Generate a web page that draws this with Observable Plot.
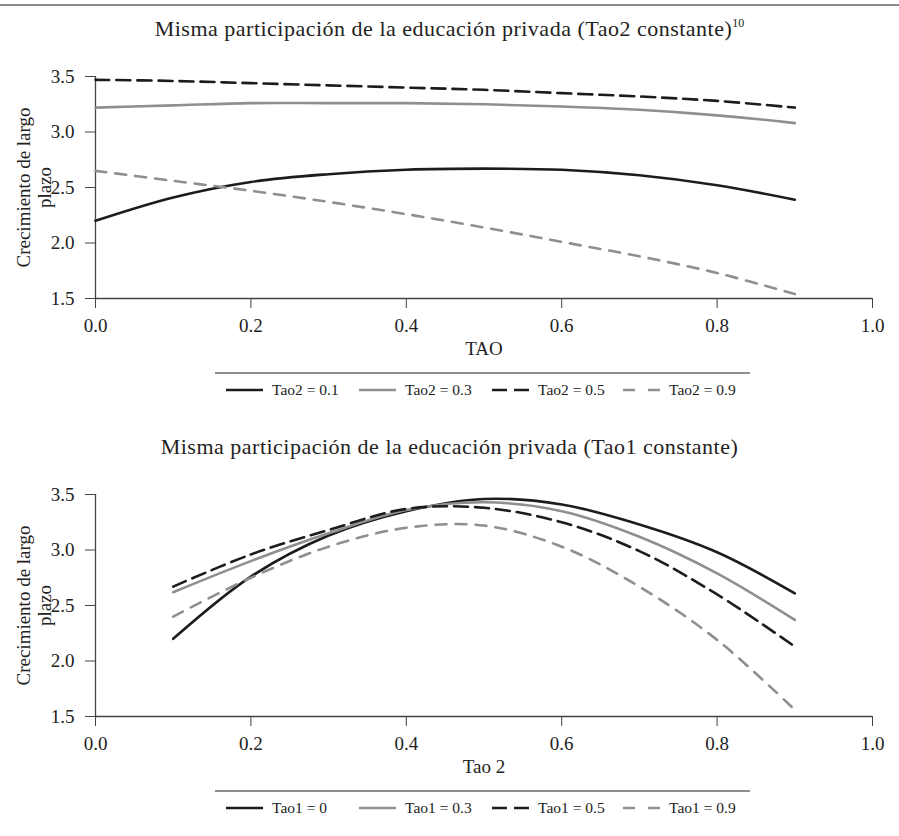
<!DOCTYPE html>
<html><head><meta charset="utf-8">
<script src="https://cdn.jsdelivr.net/npm/d3@7"></script>
<script src="https://cdn.jsdelivr.net/npm/@observablehq/plot@0.6"></script>
<style>
body{margin:0;background:#fff;font-family:"Liberation Serif",serif;color:#222}
#root{position:relative;width:899px;height:836px;overflow:hidden}
.rule{position:absolute;left:0;top:4px;width:899px;height:2px;background:#8a8a8a}
.title{position:absolute;left:0;width:899px;text-align:center;font-size:22px;letter-spacing:0.5px;line-height:24px;color:#222}
.title .sup{font-size:12px;letter-spacing:0;position:relative;top:-9px}
.sep{position:absolute;left:215px;width:535px;height:2px;background:#8e8e8e}
.leg{position:absolute;display:flex;align-items:center;font-size:15.5px;line-height:18px;white-space:nowrap;color:#222}
.leg svg{margin-right:9px}
.plot{position:absolute;left:0}
</style>
</head><body>
<div id="root"></div>
<script>
// ---------- data ----------
const titles = ["Misma participación de la educación privada (Tao2 constante)", "Misma participación de la educación privada (Tao1 constante)"];
const titleNote = "10";
const yLabel = "Crecimiento de largo\nplazo";
const xLabels = ["TAO", "Tao 2"];
const yTicks = [1.5, 2.0, 2.5, 3.0, 3.5];
const xTicks = [0, 0.2, 0.4, 0.6, 0.8, 1.0];

// Panel 1: x = TAO
const tao = [0, 0.1, 0.2, 0.3, 0.4, 0.5, 0.6, 0.7, 0.8, 0.9];
const tao2_01 = [2.20, 2.41, 2.55, 2.62, 2.66, 2.67, 2.66, 2.61, 2.52, 2.39];
const tao2_03 = [3.22, 3.24, 3.26, 3.26, 3.26, 3.25, 3.23, 3.20, 3.15, 3.08];
const tao2_05 = [3.47, 3.46, 3.44, 3.42, 3.40, 3.38, 3.35, 3.32, 3.28, 3.22];
const tao2_09 = [2.65, 2.56, 2.47, 2.37, 2.26, 2.14, 2.01, 1.88, 1.73, 1.54];
const legend1 = ["Tao2 = 0.1", "Tao2 = 0.3", "Tao2 = 0.5", "Tao2 = 0.9"];

// Panel 2: x = Tao 2
const tao2 = [0.1, 0.2, 0.3, 0.4, 0.5, 0.6, 0.7, 0.8, 0.9];
const tao1_0  = [2.20, 2.76, 3.13, 3.35, 3.46, 3.41, 3.23, 2.98, 2.61];
const tao1_03 = [2.62, 2.90, 3.15, 3.36, 3.43, 3.35, 3.12, 2.79, 2.37];
const tao1_05 = [2.67, 2.96, 3.18, 3.37, 3.38, 3.25, 2.99, 2.60, 2.13];
const tao1_09 = [2.40, 2.75, 3.03, 3.20, 3.22, 3.03, 2.67, 2.19, 1.56];
const legend2 = ["Tao1 = 0", "Tao1 = 0.3", "Tao1 = 0.5", "Tao1 = 0.9"];

// ---------- styles ----------
const BLACK = "#1c1c1c", GRAY = "#8f8f8f", AXIS = "#444";
const seriesStyles = [
  {stroke: BLACK, dash: null},
  {stroke: GRAY, dash: null},
  {stroke: BLACK, dash: "14,7"},
  {stroke: GRAY, dash: "11,9"}
];

const root = document.getElementById("root");
const rule = document.createElement("div"); rule.className = "rule"; root.appendChild(rule);

function panel(o, title, note, xs, series, xLabel, legendNames) {
  const t = document.createElement("div");
  t.className = "title"; t.style.top = (17 + o) + "px";
  t.textContent = title;
  if (note) { const s = document.createElement("span"); s.className = "sup"; s.textContent = note; t.appendChild(s); }
  root.appendChild(t);

  const marks = [
    Plot.ruleX([0], {stroke: AXIS, strokeWidth: 1.3}),
    Plot.ruleY([1.5], {stroke: AXIS, strokeWidth: 1.3}),
    Plot.axisX({ticks: xTicks, tickFormat: d3.format(".1f"), tickSize: 10, tickPadding: 10, label: null, fontSize: 19, stroke: AXIS}),
    Plot.axisY({ticks: yTicks, tickFormat: d3.format(".1f"), tickSize: 10, tickPadding: 11, label: null, fontSize: 19, stroke: AXIS}),
    Plot.text([0], {frameAnchor: "left", dx: -62, rotate: -90, text: () => yLabel, fontSize: 19, lineHeight: 1.12, lineAnchor: "middle", textAnchor: "middle", fill: "#222"}),
    Plot.text([0], {frameAnchor: "bottom", dy: 56, text: () => xLabel, fontSize: 19, fill: "#222"})
  ];
  series.forEach((ys, k) => {
    const st = seriesStyles[k];
    marks.push(Plot.line(xs.map((x, i) => ({x, y: ys[i]})), {
      x: "x", y: "y", stroke: st.stroke, strokeWidth: 2.6,
      strokeDasharray: st.dash || undefined, curve: "catmull-rom"
    }));
  });

  const svg = Plot.plot({
    width: 899, height: 300,
    marginTop: 16, marginBottom: 62, marginLeft: 95, marginRight: 27,
    x: {domain: [0, 1]},
    y: {domain: [1.5, 3.5]},
    style: {fontFamily: "Liberation Serif", fontSize: "19px", color: "#222", background: "transparent", overflow: "visible"},
    marks
  });
  svg.classList.add("plot");
  svg.style.top = (60 + o) + "px";
  root.appendChild(svg);

  const sep = document.createElement("div"); sep.className = "sep"; sep.style.top = (372 + o) + "px"; root.appendChild(sep);

  const lefts = [226, 359, 492, 623];
  legendNames.forEach((name, k) => {
    const st = seriesStyles[k];
    const item = document.createElement("div");
    item.className = "leg"; item.style.left = lefts[k] + "px"; item.style.top = (381 + o) + "px";
    const NS = "http://www.w3.org/2000/svg";
    const sw = document.createElementNS(NS, "svg");
    sw.setAttribute("width", 37); sw.setAttribute("height", 10);
    const ln = document.createElementNS(NS, "line");
    ln.setAttribute("x1", 0); ln.setAttribute("x2", 37); ln.setAttribute("y1", 5); ln.setAttribute("y2", 5);
    ln.setAttribute("stroke", st.stroke); ln.setAttribute("stroke-width", 2.6);
    if (st.dash) ln.setAttribute("stroke-dasharray", k === 2 ? "15,7" : "12,13");
    sw.appendChild(ln);
    item.appendChild(sw);
    const sp = document.createElement("span"); sp.textContent = name; item.appendChild(sp);
    root.appendChild(item);
  });
}

panel(0, titles[0], titleNote, tao, [tao2_01, tao2_03, tao2_05, tao2_09], xLabels[0], legend1);
panel(418, titles[1], null, tao2, [tao1_0, tao1_03, tao1_05, tao1_09], xLabels[1], legend2);
</script>
</body></html>
